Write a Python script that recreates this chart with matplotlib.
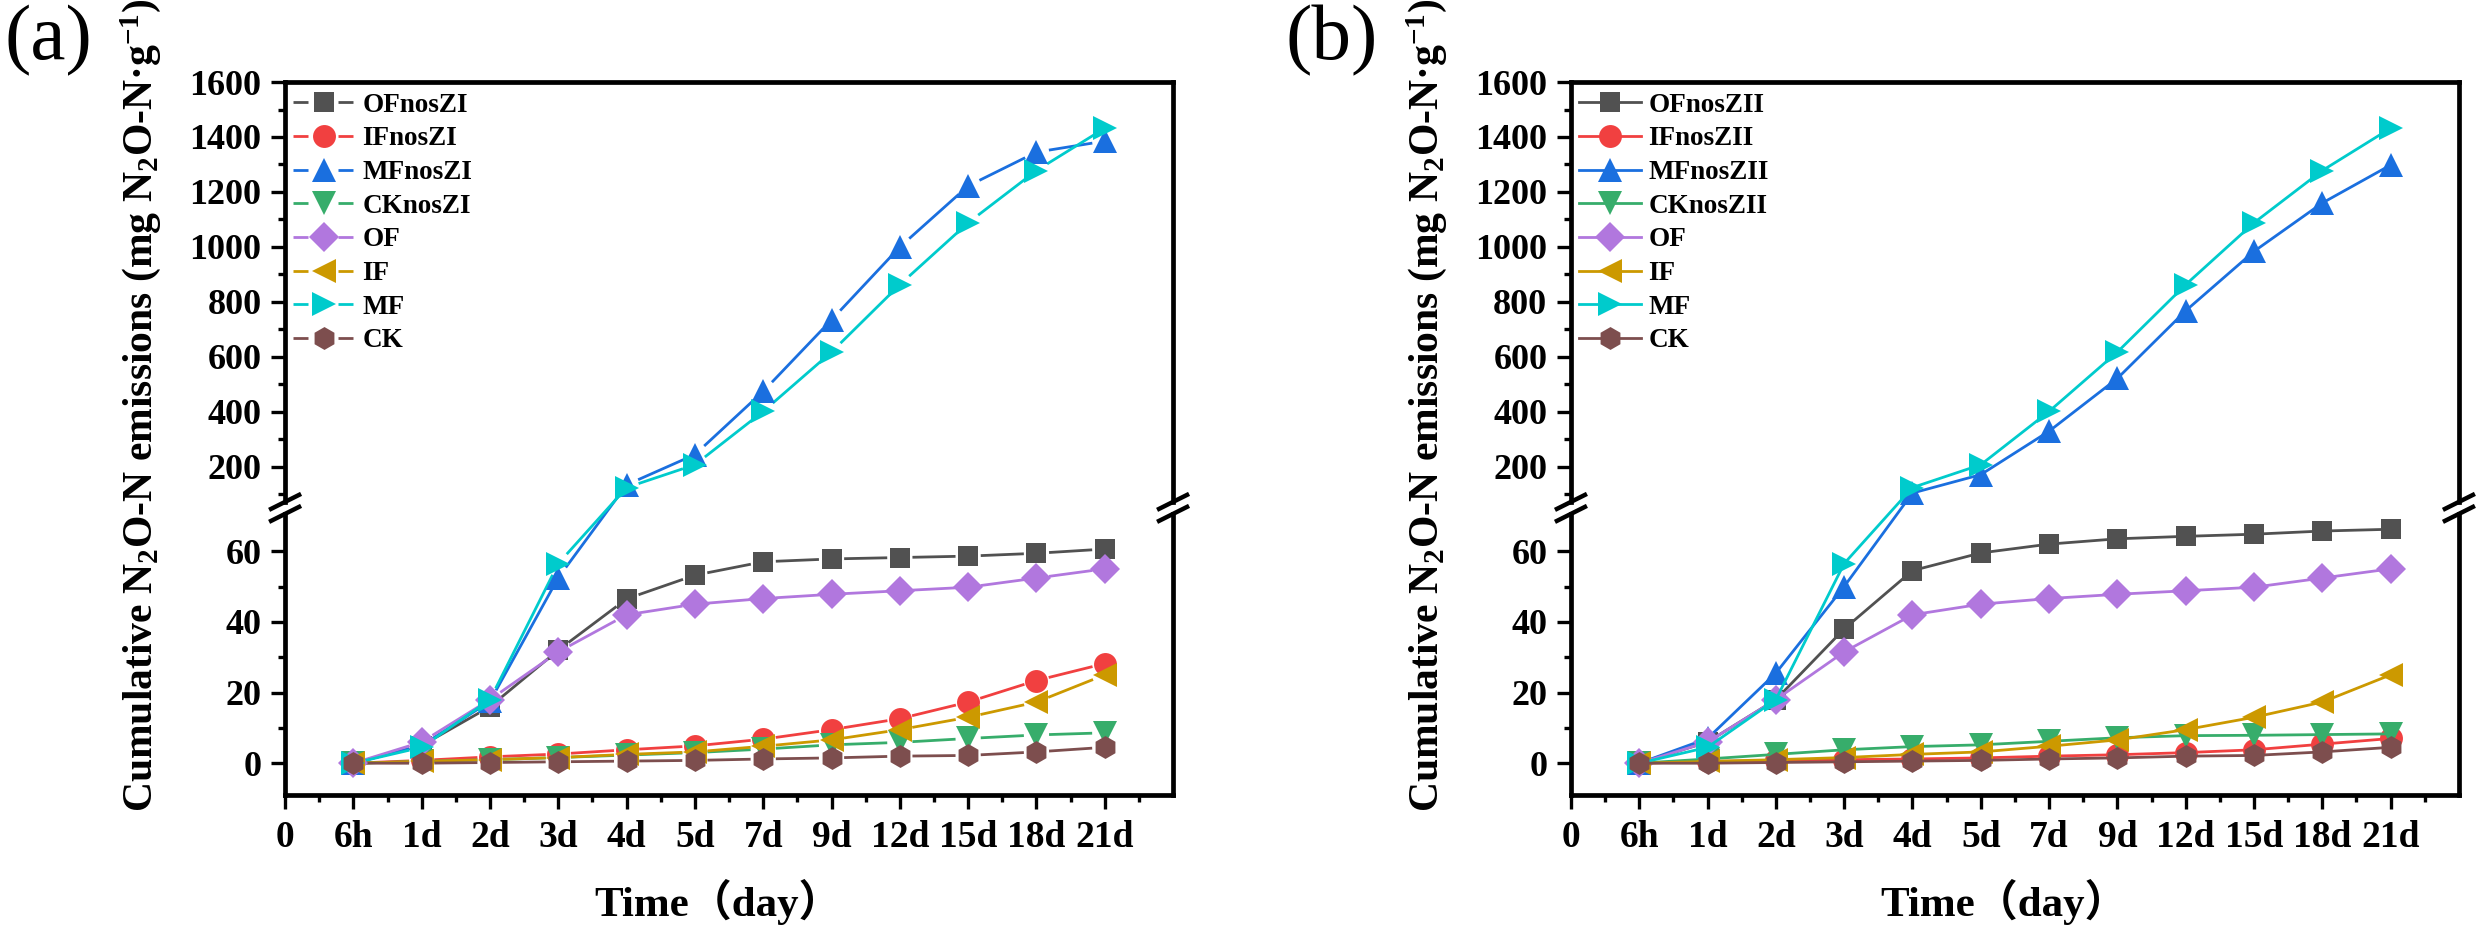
import numpy as np
import matplotlib
matplotlib.use('Agg')
from matplotlib import pyplot as plt
from matplotlib.lines import Line2D
from matplotlib.ticker import FixedLocator, NullFormatter

FAMILY = ['Liberation Serif', 'Noto Sans CJK SC']
plt.rcParams['font.family'] = FAMILY
plt.rcParams['font.weight'] = 'bold'
plt.rcParams['axes.labelweight'] = 'bold'
plt.rcParams['mathtext.fontset'] = 'custom'
plt.rcParams['mathtext.rm'] = 'Liberation Serif:bold'
plt.rcParams['mathtext.it'] = 'Liberation Serif:italic:bold'
plt.rcParams['mathtext.bf'] = 'Liberation Serif:bold'

# ---- data ----
tick_labels = ['0', '6h', '1d', '2d', '3d', '4d', '5d', '7d', '9d', '12d', '15d', '18d', '21d']
days = ['6h', '1d', '2d', '3d', '4d', '5d', '7d', '9d', '12d', '15d', '18d', '21d']
y_ticks = [0, 20, 40, 60, 200, 400, 600, 800, 1000, 1200, 1400, 1600]
y_minor = [10, 30, 50, 100, 300, 500, 700, 900, 1100, 1300, 1500]

of_nosZI = [0, 5, 16, 32, 46.5, 53.2, 57, 57.8, 58.2, 58.6, 59.4, 60.6]
if_nosZI = [0, 0.8, 1.8, 2.6, 3.8, 4.9, 6.8, 9.5, 12.6, 17.3, 23.4, 28.2]
mf_nosZI = [0, 5, 17.5, 52.5, 135, 245, 475, 735, 1000, 1222, 1345, 1385]
ck_nosZI = [0, 0.5, 1.0, 1.6, 2.3, 3.0, 4.0, 5.2, 5.9, 7.0, 8.0, 8.6]

of_nosZII = [0, 6, 18, 38, 54.5, 59.5, 62, 63.5, 64.2, 64.8, 65.7, 66.2]
if_nosZII = [0, 0.5, 0.8, 1.0, 1.2, 1.5, 2.0, 2.4, 3.0, 3.8, 5.4, 7.0]
mf_nosZII = [0, 7, 25.5, 50, 105, 172, 330, 522, 768, 984, 1160, 1298]
ck_nosZII = [0, 1.2, 2.5, 3.8, 4.7, 5.2, 6.2, 7.2, 7.8, 7.9, 8.1, 8.3]

of_ctrl = [0, 6, 18, 31.5, 42, 45, 46.6, 47.8, 48.8, 49.8, 52.4, 55]
if_ctrl = [0, 0.5, 1.0, 1.6, 2.5, 3.2, 4.8, 6.6, 9.5, 13, 17.3, 25]
mf_ctrl = [0, 4.5, 18, 56.5, 125, 208, 402, 618, 863, 1088, 1278, 1432]
ck_ctrl = [0, 0, 0.2, 0.4, 0.6, 0.8, 1.2, 1.5, 2.0, 2.2, 3.2, 4.5]

colors = ['#515151', '#F14040', '#1A6FDF', '#37AD6B', '#B177DE', '#CC9900', '#00CBCC', '#7D4E4E']
markers = ['s', 'o', '^', 'v', 'D', '<', '>', 'h']
msizes = [14.5, 16.5, 17, 17, 15, 17, 17, 16.5]

# ---- broken y scale ----
Y_MIN, Y_MAX = -9, 1600
LOW_TOP, UP_BOT = 70, 80
GAP_U = 4.5
K_UP = 0.0778


def fwd(y):
    y = np.asarray(y, dtype=float)
    mid = LOW_TOP + (y - LOW_TOP) * GAP_U / (UP_BOT - LOW_TOP)
    up = LOW_TOP + GAP_U + (y - UP_BOT) * K_UP
    return np.where(y <= LOW_TOP, y, np.where(y < UP_BOT, mid, up))


def inv(u):
    u = np.asarray(u, dtype=float)
    mid = LOW_TOP + (u - LOW_TOP) * (UP_BOT - LOW_TOP) / GAP_U
    up = UP_BOT + (u - LOW_TOP - GAP_U) / K_UP
    return np.where(u <= LOW_TOP, u, np.where(u < LOW_TOP + GAP_U, mid, up))


SPW = 3.4


def setup_axes(ax):
    ax.set_yscale('function', functions=(fwd, inv))
    ax.set_xlim(0, 13)
    ax.set_ylim(Y_MIN, Y_MAX)
    ax.set_xticks(range(13), tick_labels, fontsize=27, fontweight='bold', fontfamily=FAMILY)
    ax.xaxis.set_minor_locator(FixedLocator(np.arange(0.5, 13, 1)))
    ax.set_yticks(y_ticks, [str(v) for v in y_ticks], fontsize=26, fontweight='bold', fontfamily=FAMILY)
    ax.yaxis.set_minor_locator(FixedLocator(y_minor))
    ax.yaxis.set_minor_formatter(NullFormatter())
    ax.tick_params(which='major', direction='out', length=10, width=2.4, pad=7)
    ax.tick_params(which='minor', direction='out', length=5, width=2.4)
    ax.tick_params(axis='x', which='major', pad=8)
    for s in ['top', 'bottom']:
        ax.spines[s].set_linewidth(SPW)
    ax.spines['left'].set_visible(False)
    ax.spines['right'].set_visible(False)

    # left/right spines with a "//" break
    span = fwd(Y_MAX) - fwd(Y_MIN)
    f_mid = float((fwd((LOW_TOP + UP_BOT) / 2) - fwd(Y_MIN)) / span)
    sep = 6 / 713
    dx, dy = 14 / 888, 7 / 713
    for xa in (0, 1):
        ax.plot([xa, xa], [0, f_mid - sep], transform=ax.transAxes, color='k', lw=SPW,
                clip_on=False, solid_capstyle='projecting', zorder=5)
        ax.plot([xa, xa], [f_mid + sep, 1], transform=ax.transAxes, color='k', lw=SPW,
                clip_on=False, solid_capstyle='projecting', zorder=5)
        for fy in (f_mid - sep, f_mid + sep):
            ax.plot([xa - dx, xa + dx], [fy - dy, fy + dy], transform=ax.transAxes,
                    color='k', lw=3.2, clip_on=False, zorder=5)


def gap_lines(ax, x, y, color, gap=14):
    # segments that stop short of each symbol
    pts = ax.transData.transform(np.column_stack([x, y]))
    xs, ys = [], []
    for p0, p1 in zip(pts[:-1], pts[1:]):
        d = p1 - p0
        L = np.hypot(*d)
        if L <= 2 * gap:
            continue
        q = np.array([p0 + d / L * gap, p1 - d / L * gap])
        q = ax.transData.inverted().transform(q)
        xs += [q[0, 0], q[1, 0], np.nan]
        ys += [q[0, 1], q[1, 1], np.nan]
    ax.plot(xs, ys, color=color, lw=2, zorder=2)


def draw_panel(ax, series, labels, gapped):
    setup_axes(ax)
    x = np.arange(1, len(days) + 1)
    handles = []
    for vals, lab, c, m, ms in zip(series, labels, colors, markers, msizes):
        if gapped:
            gap_lines(ax, x, vals, c)
            ax.plot(x, vals, linestyle='none', marker=m, ms=ms, color=c, mew=0, zorder=3)
            h = Line2D([], [], color=c, lw=2, linestyle=(0, (5.4, 10.8)), marker=m, ms=ms, mew=0)
        else:
            ax.plot(x, vals, color=c, lw=2, marker=m, ms=ms, mew=0, zorder=3)
            h = Line2D([], [], color=c, lw=2, marker=m, ms=ms, mew=0)
        handles.append(h)
    ax.legend(handles, labels, loc='upper left', bbox_to_anchor=(0.009, 0.985), frameon=False,
              borderpad=0, borderaxespad=0, handlelength=2.3, handletextpad=0.26,
              labelspacing=0.32, prop={'size': 19.5, 'weight': 'bold', 'family': FAMILY})
    ax.set_ylabel('Cumulative N$_2$O-N emissions (mg N$_2$O-N·g$^{-1}$)',
                  fontsize=30, fontweight='bold', fontfamily=FAMILY)
    ax.yaxis.set_label_coords(-0.137, 0.547)
    ax.set_xlabel('Time（day）', fontsize=31, fontweight='bold', fontfamily=FAMILY)
    ax.xaxis.set_label_coords(0.488, -0.118)


fig = plt.figure(figsize=(24.79, 9.34), dpi=100)
ax_a = fig.add_axes([0.115, 0.1488, 0.3582, 0.7634])
ax_b = fig.add_axes([0.6337, 0.1488, 0.3582, 0.7634])

draw_panel(ax_a, [of_nosZI, if_nosZI, mf_nosZI, ck_nosZI, of_ctrl, if_ctrl, mf_ctrl, ck_ctrl],
           ['OFnosZI', 'IFnosZI', 'MFnosZI', 'CKnosZI', 'OF', 'IF', 'MF', 'CK'], True)
draw_panel(ax_b, [of_nosZII, if_nosZII, mf_nosZII, ck_nosZII, of_ctrl, if_ctrl, mf_ctrl, ck_ctrl],
           ['OFnosZII', 'IFnosZII', 'MFnosZII', 'CKnosZII', 'OF', 'IF', 'MF', 'CK'], False)

fig.text(0.002, 0.995, '(a)', fontsize=57, fontweight='normal', fontfamily=FAMILY, va='top', ha='left')
fig.text(0.5187, 0.995, '(b)', fontsize=57, fontweight='normal', fontfamily=FAMILY, va='top', ha='left')

fig.savefig('out.png', dpi=100)
